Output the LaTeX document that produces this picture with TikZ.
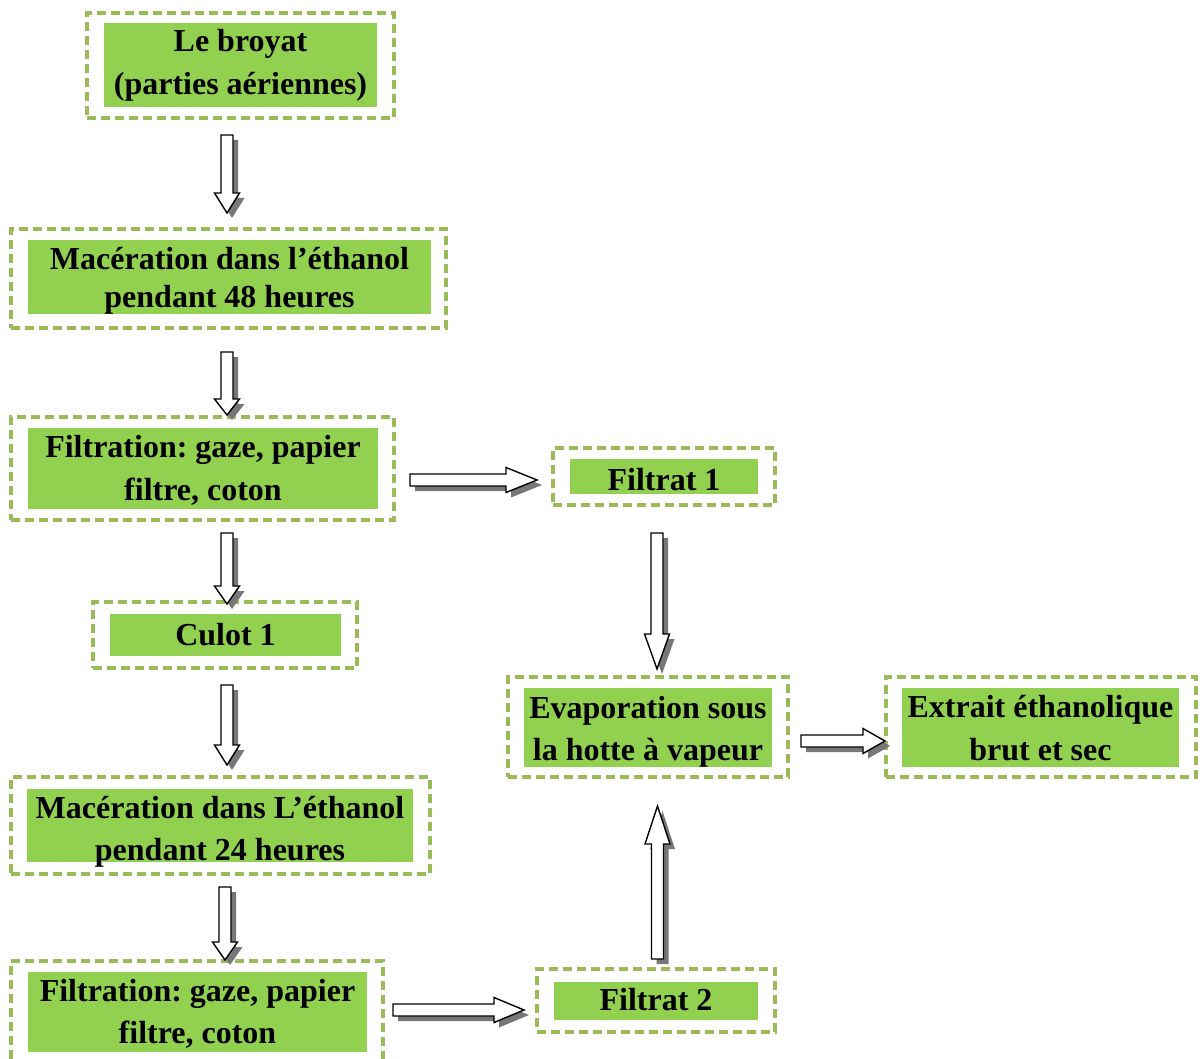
\documentclass[tikz,border=0pt]{standalone}
\usepackage{fontspec}
\setmainfont{Liberation Serif}
\usetikzlibrary{calc}
\frenchspacing

\definecolor{boxgreen}{HTML}{92D050}
\definecolor{dashgreen}{HTML}{9BBB59}
\definecolor{shadowgray}{HTML}{777777}

\tikzset{
  frame/.style={rectangle, draw=dashgreen, line width=3.3pt,
    dash pattern=on 9pt off 5pt, inner sep=0pt},
  fillbox/.style={rectangle, fill=boxgreen, inner sep=0pt},
  lbl/.style={font=\fontsize{32}{43}\selectfont\bfseries, anchor=base, inner sep=0pt},
  blockarrow/.style={draw=black, line width=1.4pt, fill=white, line join=miter,
    preaction={fill=shadowgray, transform canvas={shift={(5pt,-5pt)}}}}
}

% stage: name, dashed frame corners (x1,y1,x2,y2), green fill corners (x1,y1,x2,y2)
\newcommand\stage[9]{%
  \node[frame, minimum width={#4pt-#2pt}, minimum height={#5pt-#3pt}]
    (#1-frame) at ({(#2+#4)/2},{(#3+#5)/2}) {};
  \node[fillbox, minimum width={#8pt-#6pt}, minimum height={#9pt-#7pt}]
    (#1) at ({(#6+#8)/2},{(#7+#9)/2}) {};
}

% hollow block arrows: start coordinate, tip coordinate, head length
\newcommand\arrowdown[3]{%
  \draw[blockarrow] let \p1=(#1), \p2=(#2) in
    ({\x1-6pt},{\y1}) -- ({\x1+6pt},{\y1}) -- ({\x1+6pt},{\y2+#3}) --
    ({\x1+12.5pt},{\y2+#3}) -- ({\x1},{\y2}) -- ({\x1-12.5pt},{\y2+#3}) --
    ({\x1-6pt},{\y2+#3}) -- cycle;}
\newcommand\arrowup[3]{%
  \draw[blockarrow] let \p1=(#1), \p2=(#2) in
    ({\x1-6pt},{\y1}) -- ({\x1+6pt},{\y1}) -- ({\x1+6pt},{\y2-#3}) --
    ({\x1+12.5pt},{\y2-#3}) -- ({\x1},{\y2}) -- ({\x1-12.5pt},{\y2-#3}) --
    ({\x1-6pt},{\y2-#3}) -- cycle;}
\newcommand\arrowright[3]{%
  \draw[blockarrow] let \p1=(#1), \p2=(#2) in
    ({\x1},{\y1+6pt}) -- ({\x1},{\y1-6pt}) -- ({\x2-#3},{\y1-6pt}) --
    ({\x2-#3},{\y1-12.5pt}) -- ({\x2},{\y1}) -- ({\x2-#3},{\y1+12.5pt}) --
    ({\x2-#3},{\y1+6pt}) -- cycle;}

\begin{document}
\begin{tikzpicture}[x=1pt, y=-1pt]
\useasboundingbox (0,0) rectangle (1202,1059);

% process stages
\stage{broyat}{87}{13}{394}{118}{104}{23}{377}{107}
\node[lbl] (broyat-l1) at (240.5,52) {Le broyat};
\node[lbl] (broyat-l2) at (240.5,95) {(parties aériennes)};

\stage{mac48}{11}{229}{446}{328}{28}{240}{431}{314}
\node[lbl] (mac48-l1) at (229.5,270) {Macération dans l’éthanol};
\node[lbl] (mac48-l2) at (229.5,308) {pendant 48 heures};

\stage{filt1}{11}{417}{394}{520}{28}{428}{378}{509}
\node[lbl] (filt1-l1) at (203,457) {Filtration: gaze, papier};
\node[lbl] (filt1-l2) at (203,500) {filtre, coton};

\stage{filtrat1}{553}{448}{775}{505}{570}{459}{758}{494}
\node[lbl] (filtrat1-l1) at (664,490) {Filtrat 1};

\stage{culot}{93}{602}{357}{668}{110}{614}{341}{656}
\node[lbl] (culot-l1) at (225.5,645) {Culot 1};

\stage{mac24}{11}{777}{430}{874}{27}{789}{413}{862}
\node[lbl] (mac24-l1) at (220,818) {Macération dans L’éthanol};
\node[lbl] (mac24-l2) at (220,860) {pendant 24 heures};

\stage{filt2}{11}{961}{383}{1066}{28}{972}{367}{1052}
\node[lbl] (filt2-l1) at (197.5,1001) {Filtration: gaze, papier};
\node[lbl] (filt2-l2) at (197.5,1043) {filtre, coton};

\stage{filtrat2}{537}{969}{775}{1032}{554}{982}{758}{1020}
\node[lbl] (filtrat2-l1) at (656,1010) {Filtrat 2};

\stage{evap}{508}{677}{788}{777}{524}{688}{772}{767}
\node[lbl] (evap-l1) at (648,718) {Evaporation sous};
\node[lbl] (evap-l2) at (648,760) {la hotte à vapeur};

\stage{extrait}{886}{677}{1196}{777}{902}{688}{1179}{767}
\node[lbl] (extrait-l1) at (1040.5,717) {Extrait éthanolique};
\node[lbl] (extrait-l2) at (1040.5,760) {brut et sec};

% arrow end points
\coordinate (a1s) at (227,135);   \coordinate (a1e) at (227,213);
\coordinate (a2s) at (227,352);   \coordinate (a2e) at (227,415);
\coordinate (a3s) at (227,533);   \coordinate (a3e) at (227,604);
\coordinate (a4s) at (227,685);   \coordinate (a4e) at (227,765);
\coordinate (a5s) at (225,887);   \coordinate (a5e) at (225,960);
\coordinate (a6s) at (657,533);   \coordinate (a6e) at (657,669);
\coordinate (a7s) at (657.5,959); \coordinate (a7e) at (657.5,806);
\coordinate (h1s) at (410,480);   \coordinate (h1e) at (537,480);
\coordinate (h2s) at (393,1010);  \coordinate (h2e) at (524,1010);
\coordinate (h3s) at (801,741);   \coordinate (h3e) at (885,741);

% flow arrows
\arrowdown{a1s}{a1e}{20pt}
\arrowdown{a2s}{a2e}{16pt}
\arrowdown{a3s}{a3e}{18pt}
\arrowdown{a4s}{a4e}{20pt}
\arrowdown{a5s}{a5e}{18pt}
\arrowdown{a6s}{a6e}{35pt}
\arrowup{a7s}{a7e}{38pt}
\arrowright{h1s}{h1e}{31pt}
\arrowright{h2s}{h2e}{30pt}
\arrowright{h3s}{h3e}{22pt}
\end{tikzpicture}
\end{document}
